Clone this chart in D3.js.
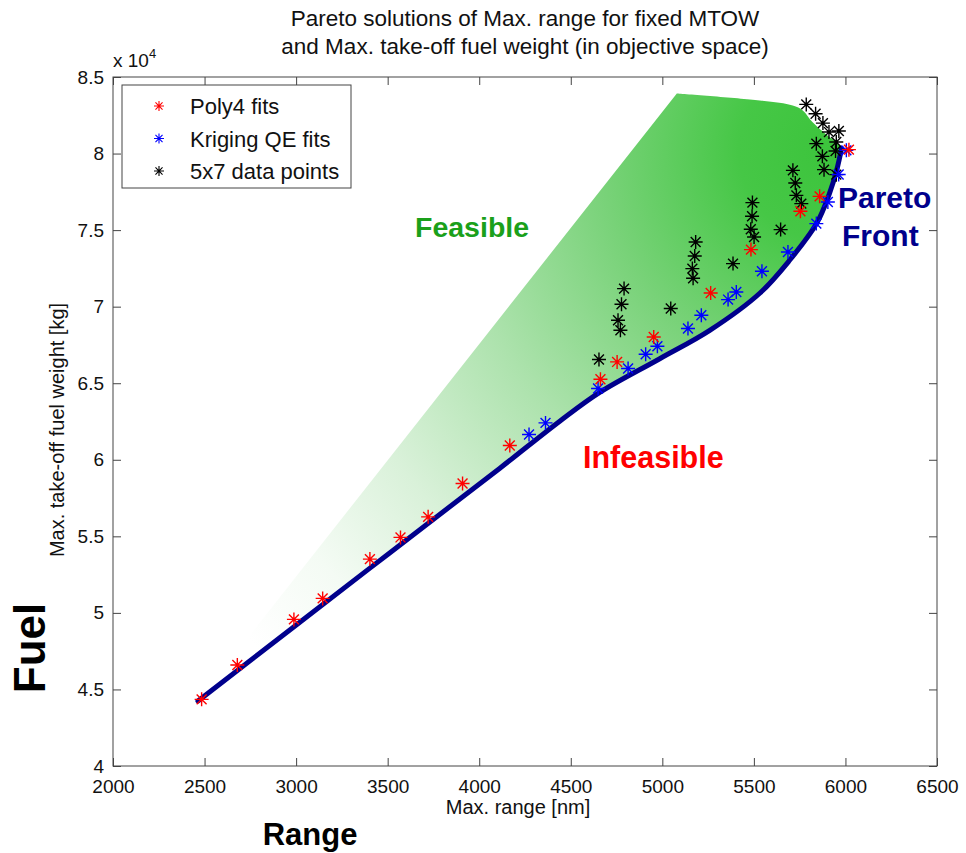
<!DOCTYPE html>
<html>
<head>
<meta charset="utf-8">
<script src="https://cdn.jsdelivr.net/npm/d3@7"></script>
<style>
  html, body { margin: 0; padding: 0; background: #fff; }
  svg text { font-family: "Liberation Sans", Arial, Helvetica, sans-serif; }
</style>
</head>
<body>
<svg id="chart" width="966" height="853"></svg>
<script>
// ---------------- data ----------------
const xTicks = [2000, 2500, 3000, 3500, 4000, 4500, 5000, 5500, 6000, 6500];
const yTicks = [40000, 45000, 50000, 55000, 60000, 65000, 70000, 75000, 80000, 85000];
const yTickLabels = ["4", "4.5", "5", "5.5", "6", "6.5", "7", "7.5", "8", "8.5"];

// Pareto front (lower-right boundary of feasible region)
const frontRange = [2464, 3403, 4113, 4440, 4658, 4986, 5259, 5532, 5695, 5843, 5913, 5952, 5979];
const frontFuel  = [44243, 52924, 59450, 62520, 64400, 66600, 68450, 70875, 73029, 75444, 77402, 78903, 80339];

// upper boundary of the feasible region (from front end back to the top-left corner)
const regionTopRange = [5979, 5958, 5887, 5821, 5767, 5712, 5532, 5079];
const regionTopFuel  = [80339, 80666, 81319, 82037, 82820, 83146, 83473, 83930];

// Poly4 fits (red)
const poly4Range = [2484, 2679, 2988, 3145, 3403, 3570, 3721, 3909, 4167, 4662, 4753, 4953, 5264, 5484, 5754, 5859, 6019];
const poly4Fuel  = [44354, 46593, 49576, 50947, 53512, 54929, 56273, 58453, 60934, 65261, 66391, 68023, 70895, 73728, 76228, 77206, 80255];

// Kriging QE fits (blue)
const krigRange = [4272, 4362, 4649, 4813, 4909, 4973, 5140, 5213, 5359, 5404, 5544, 5686, 5841, 5904, 5963, 6005];
const krigFuel  = [61652, 62409, 64654, 65960, 66893, 67415, 68571, 69439, 70463, 70960, 72311, 73571, 75425, 76835, 78632, 80209];

// 5x7 data points (black)
const dataRange = [4654, 4791, 4777, 4758, 4771, 5046, 5182, 5177, 5164, 5168, 5386, 5492, 5490, 5483, 5501, 5646,
                   5713, 5726, 5732, 5759, 5841, 5874, 5883, 5950, 5786, 5837, 5877, 5910, 5964, 5950, 5946];
const dataFuel  = [66548, 71181, 70157, 69112, 68459, 69876, 74224, 73310, 72487, 71854, 72814, 76796, 75901, 75053, 74550, 75033,
                   78904, 78075, 77271, 76730, 80646, 79817, 78949, 78623, 83211, 82604, 81990, 81403, 81469, 80751, 80164];

const legendLabels = ["Poly4 fits", "Kriging QE fits", "5x7 data points"];
const legendColors = ["#ff0000", "#0000ff", "#000000"];

// ---------------- chart ----------------
const svg = d3.select("#chart");
const x = d3.scaleLinear().domain([2000, 6500]).range([113, 937]);
const y = d3.scaleLinear().domain([40000, 85000]).range([766, 77]);

// gradient
const defs = svg.append("defs");
const grad = defs.append("radialGradient")
  .attr("id", "feasGrad").attr("gradientUnits", "userSpaceOnUse")
  .attr("cx", 830).attr("cy", 150).attr("r", 760);
[[0, "#3cc43c"], [0.12, "#46c746"], [0.3, "#78d278"], [0.5, "#ace2ac"], [0.7, "#d9f1d9"], [0.86, "#f4fbf4"], [1, "#ffffff"]]
  .forEach(([o, c]) => grad.append("stop").attr("offset", o).attr("stop-color", c));

const frontPts = frontRange.map((r, i) => [x(r), y(frontFuel[i])]);
const topPts = regionTopRange.map((r, i) => [x(r), y(regionTopFuel[i])]);
const lineCR = d3.line().curve(d3.curveCatmullRom.alpha(0.5));
const areaPath = lineCR(frontPts) + "L" + lineCR(topPts).slice(1) + "Z";

svg.append("path").attr("d", areaPath).attr("fill", "url(#feasGrad)").attr("stroke", "none");

// Pareto front line
svg.append("path").attr("d", lineCR(frontPts))
  .attr("fill", "none").attr("stroke", "#00008c").attr("stroke-width", 5)
  .attr("stroke-linecap", "round").attr("stroke-linejoin", "round");

// asterisk marker
function star(g, cx, cy, r, color, sw) {
  const d = r * Math.SQRT1_2;
  const p = `M${cx - r},${cy}L${cx + r},${cy}M${cx},${cy - r}L${cx},${cy + r}` +
            `M${cx - d},${cy - d}L${cx + d},${cy + d}M${cx - d},${cy + d}L${cx + d},${cy - d}`;
  g.append("path").attr("d", p).attr("stroke", color).attr("stroke-width", sw).attr("fill", "none");
}
const mk = svg.append("g");
dataRange.forEach((r, i) => star(mk, x(r), y(dataFuel[i]), 7, "#000", 1.4));
krigRange.forEach((r, i) => star(mk, x(r), y(krigFuel[i]), 7, "#0000ff", 1.4));
poly4Range.forEach((r, i) => star(mk, x(r), y(poly4Fuel[i]), 7, "#ff0000", 1.4));

// axes
const axisColor = "#444";
function styleAxis(g) {
  g.select(".domain").remove();
  g.selectAll(".tick line").attr("stroke", axisColor);
  g.selectAll("text").attr("font-size", 19).attr("fill", "#111")
    .attr("font-family", '"Liberation Sans", Arial, sans-serif');
}
svg.append("g").attr("transform", "translate(0,766)")
  .call(d3.axisBottom(x).tickValues(xTicks).tickSizeInner(-8).tickSizeOuter(0).tickPadding(14).tickFormat(d3.format("d")))
  .call(styleAxis);
svg.append("g").attr("transform", "translate(0,77)")
  .call(d3.axisTop(x).tickValues(xTicks).tickSizeInner(-8).tickSizeOuter(0).tickFormat(""))
  .call(styleAxis);
svg.append("g").attr("transform", "translate(113,0)")
  .call(d3.axisLeft(y).tickValues(yTicks).tickSizeInner(-8).tickSizeOuter(0).tickPadding(9)
    .tickFormat((d, i) => yTickLabels[i]))
  .call(styleAxis);
svg.append("g").attr("transform", "translate(937,0)")
  .call(d3.axisRight(y).tickValues(yTicks).tickSizeInner(-8).tickSizeOuter(0).tickFormat(""))
  .call(styleAxis);
svg.append("rect").attr("x", 113).attr("y", 77).attr("width", 824).attr("height", 689)
  .attr("fill", "none").attr("stroke", axisColor).attr("stroke-width", 1);

// x 10^4
const ex = svg.append("text").attr("x", 113).attr("y", 67).attr("font-size", 19).attr("fill", "#111");
ex.append("tspan").text("x 10");
ex.append("tspan").attr("font-size", 13).attr("dy", -9).text("4");

// titles
svg.append("text").attr("x", 525).attr("y", 26).attr("text-anchor", "middle").attr("font-size", 22.5).attr("fill", "#111")
  .text("Pareto solutions of Max. range for fixed MTOW");
svg.append("text").attr("x", 525).attr("y", 54).attr("text-anchor", "middle").attr("font-size", 22.5).attr("fill", "#111")
  .text("and Max. take-off fuel weight (in objective space)");

// axis labels
svg.append("text").attr("x", 518).attr("y", 814).attr("text-anchor", "middle").attr("font-size", 20).attr("fill", "#111")
  .text("Max. range [nm]");
svg.append("text").attr("transform", "translate(64,430) rotate(-90)").attr("text-anchor", "middle")
  .attr("font-size", 20).attr("fill", "#111").text("Max. take-off fuel weight [kg]");

svg.append("text").attr("x", 310).attr("y", 845).attr("text-anchor", "middle").attr("font-size", 31)
  .attr("font-weight", "bold").attr("fill", "#000").text("Range");
svg.append("text").attr("transform", "translate(45,648) rotate(-90)").attr("text-anchor", "middle")
  .attr("font-size", 44).attr("font-weight", "bold").attr("fill", "#000").text("Fuel");

// region annotations
svg.append("text").attr("x", 415).attr("y", 237).attr("font-size", 28.5).attr("font-weight", "bold")
  .attr("fill", "#1aa01a").text("Feasible");
svg.append("text").attr("x", 583).attr("y", 468).attr("font-size", 30.5).attr("font-weight", "bold")
  .attr("fill", "#ff0000").text("Infeasible");
svg.append("text").attr("x", 838).attr("y", 208).attr("font-size", 30).attr("font-weight", "bold")
  .attr("fill", "#00008c").text("Pareto");
svg.append("text").attr("x", 842).attr("y", 246).attr("font-size", 30).attr("font-weight", "bold")
  .attr("fill", "#00008c").text("Front");

// legend
const lg = svg.append("g");
lg.append("rect").attr("x", 122).attr("y", 85).attr("width", 229).attr("height", 103)
  .attr("fill", "#fff").attr("stroke", axisColor).attr("stroke-width", 1);
legendLabels.forEach((lab, i) => {
  const cy = 106 + i * 32.5;
  star(lg, 159, cy, 5, legendColors[i], 1.1);
  lg.append("text").attr("x", 190).attr("y", cy + 8).attr("font-size", 22).attr("fill", "#111").text(lab);
});
</script>
</body>
</html>
